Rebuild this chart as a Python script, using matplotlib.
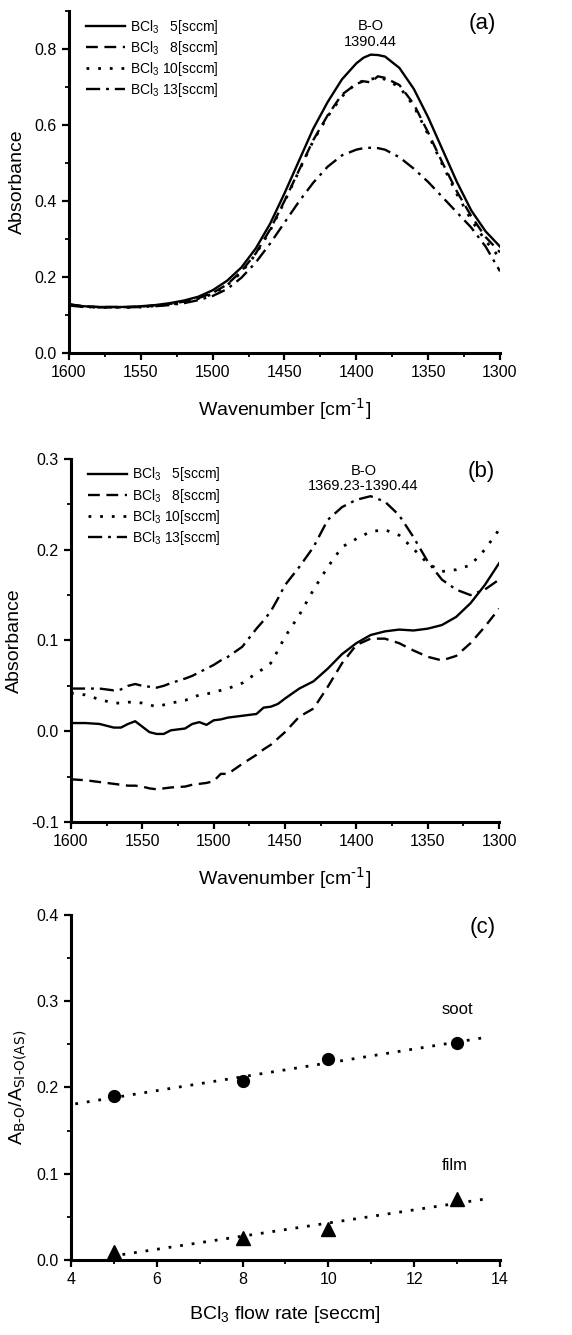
import numpy as np
import matplotlib.pyplot as plt
from matplotlib.ticker import MultipleLocator

plt.rcParams['font.family'] = ['Liberation Sans', 'DejaVu Sans']
plt.rcParams['axes.unicode_minus'] = False
plt.rcParams['mathtext.default'] = 'regular'

# (a) spectra
wn_a = [1600, 1590, 1580, 1570, 1560, 1550, 1540, 1530, 1520, 1510, 1500, 1490, 1480,
        1470, 1460, 1450, 1440, 1430, 1420, 1410, 1400, 1395, 1390, 1385, 1380, 1370,
        1360, 1350, 1340, 1330, 1320, 1310, 1300]
a_5 = [0.128, 0.123, 0.121, 0.121, 0.121, 0.123, 0.126, 0.131, 0.138, 0.148, 0.165, 0.19, 0.225,
       0.275, 0.34, 0.42, 0.505, 0.59, 0.66, 0.72, 0.762, 0.777, 0.785, 0.784, 0.78, 0.75,
       0.695, 0.62, 0.535, 0.45, 0.375, 0.32, 0.28]
a_8 = [0.128, 0.123, 0.121, 0.121, 0.121, 0.122, 0.125, 0.129, 0.135, 0.144, 0.158, 0.18, 0.215,
       0.262, 0.325, 0.40, 0.48, 0.56, 0.625, 0.68, 0.708, 0.715, 0.712, 0.728, 0.724, 0.705,
       0.655, 0.58, 0.50, 0.425, 0.36, 0.305, 0.265]
a_10 = [0.127, 0.122, 0.120, 0.120, 0.120, 0.121, 0.124, 0.128, 0.134, 0.143, 0.155, 0.178, 0.212,
        0.26, 0.322, 0.398, 0.478, 0.558, 0.622, 0.675, 0.71, 0.716, 0.72, 0.725, 0.72, 0.70,
        0.65, 0.575, 0.495, 0.418, 0.35, 0.295, 0.25]
a_13 = [0.125, 0.121, 0.120, 0.120, 0.120, 0.121, 0.123, 0.126, 0.131, 0.139, 0.150, 0.168, 0.198,
        0.238, 0.288, 0.343, 0.398, 0.448, 0.49, 0.52, 0.535, 0.539, 0.54, 0.539, 0.535, 0.515,
        0.485, 0.45, 0.41, 0.37, 0.33, 0.28, 0.215]

# (b) spectra
wn_b = [1600, 1590, 1580, 1570, 1565, 1560, 1555, 1550, 1545, 1540, 1535, 1530, 1520, 1515,
        1510, 1505, 1500, 1495, 1490, 1480, 1470, 1465, 1460, 1455, 1450, 1440, 1430, 1420,
        1410, 1400, 1390, 1380, 1370, 1360, 1350, 1340, 1330, 1320, 1310, 1300]
b_5 = [0.009, 0.009, 0.008, 0.004, 0.004, 0.008, 0.011, 0.005, -0.001, -0.003, -0.003, 0.001, 0.003, 0.008,
       0.010, 0.007, 0.012, 0.013, 0.015, 0.017, 0.019, 0.026, 0.027, 0.030, 0.036, 0.047, 0.055, 0.069,
       0.085, 0.097, 0.106, 0.110, 0.112, 0.111, 0.113, 0.117, 0.126, 0.141, 0.161, 0.185]
b_8 = [-0.053, -0.054, -0.056, -0.058, -0.059, -0.060, -0.060, -0.061, -0.063, -0.064, -0.063, -0.062, -0.061, -0.059,
       -0.058, -0.057, -0.055, -0.047, -0.047, -0.036, -0.026, -0.020, -0.015, -0.008, -0.001, 0.016, 0.025, 0.049,
       0.075, 0.095, 0.102, 0.102, 0.097, 0.089, 0.082, 0.078, 0.083, 0.097, 0.115, 0.135]
b_10 = [0.042, 0.040, 0.035, 0.031, 0.031, 0.032, 0.032, 0.031, 0.029, 0.027, 0.029, 0.031, 0.034, 0.037,
        0.040, 0.041, 0.043, 0.045, 0.047, 0.053, 0.064, 0.069, 0.075, 0.089, 0.104, 0.128, 0.156, 0.181,
        0.203, 0.212, 0.220, 0.222, 0.216, 0.201, 0.185, 0.176, 0.178, 0.183, 0.200, 0.222]
b_13 = [0.047, 0.047, 0.047, 0.045, 0.046, 0.050, 0.052, 0.050, 0.049, 0.048, 0.050, 0.053, 0.058, 0.061,
        0.065, 0.069, 0.073, 0.078, 0.082, 0.093, 0.113, 0.122, 0.132, 0.146, 0.161, 0.181, 0.203, 0.233,
        0.247, 0.255, 0.259, 0.253, 0.238, 0.214, 0.187, 0.167, 0.156, 0.150, 0.156, 0.167]

# (c) ratio vs flow rate
flow = [5, 8, 10, 13]
soot = [0.190, 0.207, 0.233, 0.252]
film = [0.009, 0.025, 0.036, 0.071]

labels = ['BCl$_3$   5[sccm]', 'BCl$_3$   8[sccm]', 'BCl$_3$ 10[sccm]', 'BCl$_3$ 13[sccm]']
styles = [dict(ls='-', lw=1.7),
          dict(ls=(0, (5, 2.8)), lw=1.7),
          dict(ls=(0, (1, 3.2)), lw=2.0),
          dict(ls=(0, (6, 2.5, 1.2, 2.5)), lw=1.7)]

fig = plt.figure(figsize=(5.72, 13.35), dpi=100)


def style_axes(ax):
    for s in ['top', 'right']:
        ax.spines[s].set_visible(False)
    for s in ['left', 'bottom']:
        ax.spines[s].set_linewidth(2.2)
    ax.tick_params(which='major', direction='out', length=5, width=1.6, labelsize=11.5, pad=4)
    ax.tick_params(which='minor', direction='out', length=3, width=1.3)


def spectrum_panel(ax, wn, series, ylim, ymaj, ymin, note, note_y, tag):
    for y, lab, st in zip(series, labels, styles):
        ax.plot(wn, y, color='black', label=lab, **st)
    ax.set_xlim(1600, 1300)
    ax.set_ylim(*ylim)
    ax.xaxis.set_major_locator(MultipleLocator(50))
    ax.xaxis.set_minor_locator(MultipleLocator(25))
    ax.yaxis.set_major_locator(MultipleLocator(ymaj))
    ax.yaxis.set_minor_locator(MultipleLocator(ymin))
    ax.set_xlabel('Wavenumber [cm$^{\\text{-1}}$]', fontsize=14, labelpad=12)
    ax.set_ylabel('Absorbance', fontsize=14, labelpad=6)
    ax.text(note[0], note_y, note[1], ha='center', va='bottom', fontsize=10.5, linespacing=1.15)
    ax.text(0.99, 0.995, tag, transform=ax.transAxes, ha='right', va='top', fontsize=16)
    ax.legend(loc='upper left', bbox_to_anchor=(0.02, 1.005), frameon=False, fontsize=10,
              handlelength=2.8, handletextpad=0.4, labelspacing=0.22, borderaxespad=0.2)
    style_axes(ax)


ax1 = fig.add_axes([0.1206, 0.7356, 0.7535, 0.2562])
spectrum_panel(ax1, wn_a, [a_5, a_8, a_10, a_13], (0, 0.9), 0.2, 0.1,
               (1390, 'B-O\n1390.44'), 0.80, '(a)')

ax2 = fig.add_axes([0.1241, 0.3843, 0.7483, 0.2719])
spectrum_panel(ax2, wn_b, [b_5, b_8, b_10, b_13], (-0.1, 0.3), 0.1, 0.05,
               (1395, 'B-O\n1369.23-1390.44'), 0.262, '(b)')

ax3 = fig.add_axes([0.1241, 0.0562, 0.75, 0.2584])
fs = np.polyfit(flow, soot, 1)
ff = np.polyfit(flow, film, 1)
xs = np.array([4.1, 13.6])
xf = np.array([5.2, 13.6])
ax3.plot(xs, np.polyval(fs, xs), color='black', ls=(0, (1, 3.2)), lw=2.0)
ax3.plot(xf, np.polyval(ff, xf), color='black', ls=(0, (1, 3.2)), lw=2.0)
ax3.plot(flow, soot, 'o', color='black', ms=8.5)
ax3.plot(flow, film, '^', color='black', ms=9.5)
ax3.text(13.0, 0.29, 'soot', ha='center', va='center', fontsize=12)
ax3.text(12.95, 0.11, 'film', ha='center', va='center', fontsize=12)
ax3.set_xlim(4, 14)
ax3.set_ylim(0, 0.4)
ax3.xaxis.set_major_locator(MultipleLocator(2))
ax3.xaxis.set_minor_locator(MultipleLocator(1))
ax3.yaxis.set_major_locator(MultipleLocator(0.1))
ax3.yaxis.set_minor_locator(MultipleLocator(0.05))
ax3.set_xlabel('BCl$_3$ flow rate [seccm]', fontsize=14, labelpad=12)
ax3.set_ylabel('A$_{\\text{B-O}}$/A$_{\\text{SI-O(AS)}}$', fontsize=14, labelpad=6)
ax3.text(0.99, 0.995, '(c)', transform=ax3.transAxes, ha='right', va='top', fontsize=16)
style_axes(ax3)

fig.savefig('out.png', dpi=100)
